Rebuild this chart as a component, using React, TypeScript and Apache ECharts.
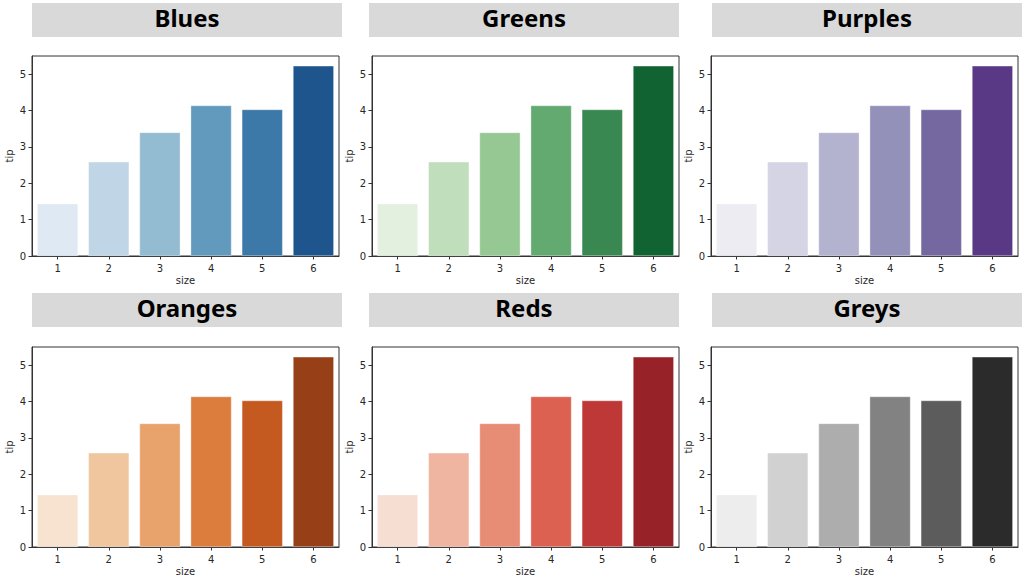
import React, { useEffect, useRef } from "react";
import * as echarts from "echarts";

const sizes = ["1", "2", "3", "4", "5", "6"];
const tips = [1.44, 2.59, 3.4, 4.14, 4.03, 5.23];
const paletteNames = ["Blues", "Greens", "Purples", "Oranges", "Reds", "Greys"];
const xAxisName = "size";
const yAxisName = "tip";

const brewer: Record<string, string[]> = {
  Blues: ["f7fbff", "deebf7", "c6dbef", "9ecae1", "6baed6", "4292c6", "2171b5", "08519c", "08306b"],
  Greens: ["f7fcf5", "e5f5e0", "c7e9c0", "a1d99b", "74c476", "41ab5d", "238b45", "006d2c", "00441b"],
  Purples: ["fcfbfd", "efedf5", "dadaeb", "bcbddc", "9e9ac8", "807dba", "6a51a3", "54278f", "3f007d"],
  Oranges: ["fff5eb", "fee6ce", "fdd0a2", "fdae6b", "fd8d3c", "f16913", "d94801", "a63603", "7f2704"],
  Reds: ["fff5f0", "fee0d2", "fcbba1", "fc9272", "fb6a4a", "ef3b2c", "cb181d", "a50f15", "67000d"],
  Greys: ["ffffff", "f0f0f0", "d9d9d9", "bdbdbd", "969696", "737373", "525252", "252525", "000000"],
};

function hexToRgb(h: string): number[] {
  return [0, 2, 4].map((i) => parseInt(h.slice(i, i + 2), 16));
}

function sampleMap(name: string, t: number): number[] {
  const anchors = brewer[name].map(hexToRgb);
  const idx = Math.min(255, Math.floor(t * 256));
  const tt = idx / 255;
  const pos = tt * (anchors.length - 1);
  const i = Math.min(anchors.length - 2, Math.floor(pos));
  const f = pos - i;
  return anchors[i].map((c, k) => c + (anchors[i + 1][k] - c) * f);
}

function desaturate(rgb: number[], k: number): string {
  const mx = Math.max(...rgb);
  const mn = Math.min(...rgb);
  const l = (mx + mn) / 2;
  const out = rgb.map((c) => Math.round(Math.max(0, Math.min(255, l + (c - l) * k))));
  return "rgb(" + out.join(",") + ")";
}

function palette(name: string, n: number): string[] {
  const res: string[] = [];
  for (let i = 1; i <= n; i++) {
    res.push(desaturate(sampleMap(name, i / (n + 1)), 0.75));
  }
  return res;
}

const plotLefts = [32, 372, 711];
const plotTops = [56, 347];
const plotW = 307;
const plotH = 200;
const titleLefts = [32, 369, 712];
const titleTops = [3, 293];
const titleW = 310;
const titleH = 34;

export default function App() {
  const ref = useRef<HTMLDivElement>(null);
  useEffect(() => {
    if (!ref.current) return;
    const chart = echarts.init(ref.current, undefined, { renderer: "svg" });
    const grids: any[] = [];
    const xAxes: any[] = [];
    const yAxes: any[] = [];
    const series: any[] = [];
    const graphics: any[] = [];
    const axisColor = "#333333";
    const textColor = "#262626";
    paletteNames.forEach((name, i) => {
      const r = Math.floor(i / 3);
      const c = i % 3;
      const colors = palette(name, sizes.length);
      grids.push({
        left: plotLefts[c],
        top: plotTops[r],
        width: plotW,
        height: plotH,
        show: true,
        borderColor: axisColor,
        borderWidth: 1,
        backgroundColor: "transparent",
      });
      xAxes.push({
        type: "category",
        gridIndex: i,
        data: sizes,
        name: xAxisName,
        nameLocation: "middle",
        nameGap: 19,
        nameTextStyle: { fontFamily: "DejaVu Sans", fontSize: 10, color: textColor },
        axisLine: { show: true, lineStyle: { color: axisColor, width: 1 } },
        axisTick: { show: true, alignWithLabel: true, length: 3.5, lineStyle: { color: axisColor } },
        axisLabel: { fontFamily: "DejaVu Sans", fontSize: 10, color: textColor, margin: 7 },
        splitLine: { show: false },
      });
      yAxes.push({
        type: "value",
        gridIndex: i,
        min: 0,
        max: 5.5,
        interval: 1,
        name: yAxisName,
        nameLocation: "middle",
        nameGap: 18,
        nameTextStyle: { fontFamily: "DejaVu Sans", fontSize: 10, color: textColor },
        axisLine: { show: true, lineStyle: { color: axisColor, width: 1 } },
        axisTick: { show: true, length: 3.5, lineStyle: { color: axisColor } },
        axisLabel: { fontFamily: "DejaVu Sans", fontSize: 10, color: textColor, margin: 6, showMaxLabel: false },
        splitLine: { show: false },
      });
      series.push({
        type: "bar",
        xAxisIndex: i,
        yAxisIndex: i,
        barCategoryGap: "20%",
        data: tips.map((v, k) => ({ value: v, itemStyle: { color: colors[k] } })),
        itemStyle: { borderColor: "rgba(255,255,255,0.6)", borderWidth: 0.6 },
      });
      graphics.push({
        type: "rect",
        shape: { x: titleLefts[c], y: titleTops[r], width: titleW, height: titleH },
        style: { fill: "#d9d9d9" },
      });
      graphics.push({
        type: "text",
        x: titleLefts[c] + titleW / 2,
        y: titleTops[r] + titleH / 2 - 3,
        style: {
          text: name,
          fill: "#000000",
          font: 'bold 24px "Noto Sans"',
          textAlign: "center",
          textVerticalAlign: "middle",
        },
      });
    });
    chart.setOption({
      animation: false,
      backgroundColor: "#ffffff",
      grid: grids,
      xAxis: xAxes,
      yAxis: yAxes,
      series,
      graphic: graphics,
    });
    return () => chart.dispose();
  }, []);
  return (
    <div
      ref={ref}
      style={{ position: "fixed", left: 0, top: 0, width: 1024, height: 582, background: "#fff" }}
    />
  );
}
